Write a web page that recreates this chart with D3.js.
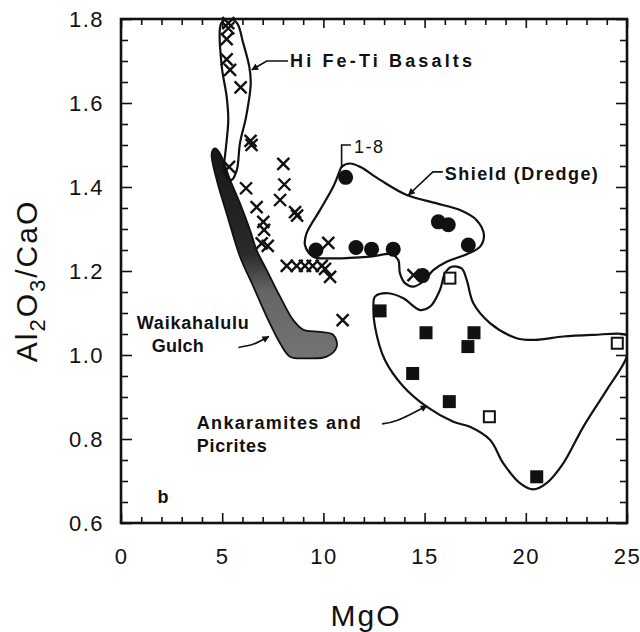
<!DOCTYPE html>
<html>
<head>
<meta charset="utf-8">
<script src="https://cdn.jsdelivr.net/npm/d3@7"></script>
<style>
  body { margin: 0; background: #fff; }
  svg { display: block; }
  .axis path.domain { display: none; }
  .axis line { stroke: #111; stroke-width: 1.6; }
  .axis text { font-family: "Liberation Sans", Arial, sans-serif; font-size: 22px; fill: #111; letter-spacing: 1.5px; }
  .title { font-family: "Liberation Sans", Arial, sans-serif; font-size: 30px; fill: #111; }
  .note { font-family: "Liberation Sans", Arial, sans-serif; font-size: 18px; font-weight: bold; fill: #111; }
  .leader { fill: none; stroke: #111; stroke-width: 1.6; }
  .outline { fill: none; stroke: #111; stroke-width: 2.2; }
</style>
</head>
<body>
<div id="chart"></div>
<script>
// ---- data (MgO wt%, Al2O3/CaO) ----
const mgoTicks = [0, 5, 10, 15, 20, 25];
const ratioTicks = [0.6, 0.8, 1.0, 1.2, 1.4, 1.6, 1.8];

// X symbols
const crosses = [
  [5.30, 1.790], [5.30, 1.778], [5.22, 1.752], [5.22, 1.704], [5.39, 1.679], [5.91, 1.637],
  [5.34, 1.448], [6.40, 1.510], [6.45, 1.500],
  [8.02, 1.455], [8.07, 1.406], [7.86, 1.369], [8.60, 1.340], [8.70, 1.332],
  [6.18, 1.397], [6.70, 1.352], [7.03, 1.317], [7.07, 1.298], [6.95, 1.266], [7.25, 1.260],
  [10.24, 1.267],
  [8.19, 1.212], [8.68, 1.212], [9.09, 1.212], [9.47, 1.212], [9.92, 1.212], [10.08, 1.205],
  [10.33, 1.186], [10.95, 1.083], [14.45, 1.190]
];

// filled circles (shield dredge)
const circles = [
  [11.10, 1.423], [9.63, 1.250], [11.61, 1.256], [12.38, 1.252], [13.45, 1.252],
  [15.68, 1.317], [16.17, 1.310], [17.16, 1.262], [14.90, 1.189]
];

// filled squares and open squares (ankaramites / picrites)
const filledSquares = [
  [12.80, 1.105], [15.07, 1.053], [17.44, 1.053], [17.14, 1.020],
  [14.41, 0.956], [16.22, 0.889], [20.54, 0.710]
];
const openSquares = [[16.25, 1.183], [18.20, 0.853], [24.52, 1.028]];

// field outlines
const hiFeTiOutline = [
  [4.89, 1.779], [4.98, 1.686], [5.22, 1.615], [5.30, 1.560], [5.19, 1.496], [5.09, 1.448],
  [5.14, 1.429], [5.47, 1.417], [5.72, 1.440], [5.88, 1.505], [6.18, 1.567], [6.41, 1.647],
  [6.34, 1.686], [6.04, 1.742], [5.72, 1.791], [5.30, 1.800], [4.99, 1.793]
];
const shieldOutline = [
  [10.90, 1.448], [11.31, 1.456], [11.81, 1.448], [12.80, 1.417], [14.12, 1.381], [15.60, 1.361],
  [16.75, 1.345], [17.57, 1.321], [17.93, 1.286], [17.74, 1.258], [17.08, 1.240], [16.09, 1.222],
  [15.43, 1.202], [14.94, 1.175], [14.44, 1.163], [14.03, 1.171], [13.78, 1.195], [13.70, 1.226],
  [13.37, 1.240], [12.30, 1.234], [10.33, 1.230], [9.50, 1.234], [9.09, 1.262], [9.17, 1.290],
  [9.83, 1.345], [10.49, 1.401], [10.82, 1.440]
];
const ankaramiteOutline = [
  [12.55, 1.139], [13.21, 1.147], [13.95, 1.135], [14.77, 1.107], [15.27, 1.115], [15.76, 1.155],
  [16.01, 1.195], [16.34, 1.210], [16.83, 1.206], [17.08, 1.179], [17.41, 1.123], [18.23, 1.076],
  [19.55, 1.040], [20.45, 1.036], [21.85, 1.044], [23.34, 1.048], [24.82, 1.050], [25.05, 1.044],
  [24.99, 0.996], [24.00, 0.917], [22.84, 0.829], [21.85, 0.742], [21.03, 0.695], [20.37, 0.680],
  [19.71, 0.695], [18.89, 0.742], [18.23, 0.798], [17.24, 0.829], [16.42, 0.841], [15.10, 0.877],
  [13.95, 0.925], [13.04, 0.988], [12.55, 1.067], [12.47, 1.115]
];
const waikahaluluOutline = [
  [4.64, 1.492], [4.48, 1.480], [4.73, 1.417], [5.22, 1.337], [5.88, 1.234], [6.54, 1.163],
  [7.20, 1.091], [7.86, 1.028], [8.35, 0.996], [9.17, 0.992], [10.16, 0.996], [10.66, 1.020],
  [10.49, 1.048], [9.83, 1.055], [9.01, 1.060], [8.51, 1.083], [7.86, 1.139], [7.20, 1.202],
  [6.70, 1.250], [6.37, 1.298], [5.88, 1.361], [5.39, 1.417], [4.89, 1.480]
];

// ---- layout ----
const containerWidth = 640, containerHeight = 632;
const margin = {top: 19, right: 13, bottom: 109, left: 121};
const width = containerWidth - margin.left - margin.right;
const height = containerHeight - margin.top - margin.bottom;

const svg = d3.select('#chart').append('svg')
    .attr('width', containerWidth)
    .attr('height', containerHeight);

const defs = svg.append('defs');
defs.append('clipPath').attr('id', 'plot-clip')
  .append('rect').attr('width', width).attr('height', height);

defs.append('marker')
    .attr('id', 'arrow')
    .attr('viewBox', '0 0 10 10')
    .attr('refX', 9).attr('refY', 5)
    .attr('markerWidth', 9).attr('markerHeight', 7)
    .attr('markerUnits', 'userSpaceOnUse')
    .attr('orient', 'auto')
  .append('path')
    .attr('d', 'M0,0L10,5L0,10Z')
    .attr('fill', '#111');

// gulch field: near-black upper part fading to a stippled mid grey
const shade = defs.append('linearGradient')
    .attr('id', 'gulch-shade')
    .attr('x1', 0).attr('y1', 0).attr('x2', 0).attr('y2', 1);
shade.append('stop').attr('offset', 0).attr('stop-color', '#161616');
shade.append('stop').attr('offset', 0.5).attr('stop-color', '#2a2a2a');
shade.append('stop').attr('offset', 0.68).attr('stop-color', '#656565');
shade.append('stop').attr('offset', 1).attr('stop-color', '#747474');

const chart = svg.append('g')
    .attr('transform', `translate(${margin.left},${margin.top})`);

// scales
const x = d3.scaleLinear().domain([0, 25]).range([0, width]);
const y = d3.scaleLinear().domain([0.6, 1.8]).range([height, 0]);

const minorX = d3.range(0, 26, 1).filter(d => d % 5 !== 0);
const minorY = d3.range(0.6, 1.801, 0.05).filter(d => Math.abs(d * 5 - Math.round(d * 5)) > 1e-6);

// axes (ticks point inward)
chart.append('g').attr('class', 'axis')
    .attr('transform', `translate(0,${height})`)
    .call(d3.axisBottom(x).tickValues(mgoTicks).tickSizeInner(-10).tickSizeOuter(0).tickPadding(25));
chart.append('g').attr('class', 'axis')
    .attr('transform', `translate(0,${height})`)
    .call(d3.axisBottom(x).tickValues(minorX).tickSizeInner(-6).tickSizeOuter(0).tickFormat(''));
chart.append('g').attr('class', 'axis')
    .call(d3.axisTop(x).tickValues(mgoTicks).tickSizeInner(-9).tickSizeOuter(0).tickFormat(''));
chart.append('g').attr('class', 'axis')
    .call(d3.axisTop(x).tickValues(minorX).tickSizeInner(-6).tickSizeOuter(0).tickFormat(''));

chart.append('g').attr('class', 'axis')
    .call(d3.axisLeft(y).tickValues(ratioTicks).tickSizeInner(-11).tickSizeOuter(0)
      .tickPadding(17).tickFormat(d3.format('.1f')));
chart.append('g').attr('class', 'axis')
    .call(d3.axisLeft(y).tickValues(minorY).tickSizeInner(-7).tickSizeOuter(0).tickFormat(''));
chart.append('g').attr('class', 'axis')
    .attr('transform', `translate(${width},0)`)
    .call(d3.axisRight(y).tickValues(ratioTicks).tickSizeInner(-11).tickSizeOuter(0).tickFormat(''));
chart.append('g').attr('class', 'axis')
    .attr('transform', `translate(${width},0)`)
    .call(d3.axisRight(y).tickValues(minorY).tickSizeInner(-7).tickSizeOuter(0).tickFormat(''));

// frame
chart.append('rect')
    .attr('width', width).attr('height', height)
    .attr('fill', 'none').attr('stroke', '#111').attr('stroke-width', 2.6);

// fields
const fields = chart.append('g').attr('clip-path', 'url(#plot-clip)');
const closedLine = d3.line()
    .x(d => x(d[0])).y(d => y(d[1]))
    .curve(d3.curveCatmullRomClosed.alpha(0.5));

fields.append('path')
    .attr('d', closedLine(waikahaluluOutline))
    .attr('fill', 'url(#gulch-shade)')
    .attr('stroke', '#111').attr('stroke-width', 1.8);

fields.append('path').attr('class', 'outline')
    .attr('d', closedLine(hiFeTiOutline))
    .attr('stroke-width', 2.8);
fields.append('path').attr('class', 'outline')
    .attr('d', closedLine(shieldOutline));
fields.append('path').attr('class', 'outline')
    .attr('d', closedLine(ankaramiteOutline));

// symbols
const marks = chart.append('g');
const xs = 6;
marks.selectAll('.cross')
    .data(crosses)
  .join('path')
    .attr('class', 'cross')
    .attr('d', d => {
      const cx = x(d[0]), cy = y(d[1]);
      return `M${cx - xs},${cy - xs}L${cx + xs},${cy + xs}M${cx + xs},${cy - xs}L${cx - xs},${cy + xs}`;
    })
    .attr('stroke', '#111').attr('stroke-width', 2.4).attr('fill', 'none');

marks.selectAll('.dot')
    .data(circles)
  .join('circle')
    .attr('class', 'dot')
    .attr('cx', d => x(d[0])).attr('cy', d => y(d[1]))
    .attr('r', 7.5)
    .attr('fill', '#111');

marks.selectAll('.sq')
    .data(filledSquares)
  .join('rect')
    .attr('class', 'sq')
    .attr('x', d => x(d[0]) - 6.5).attr('y', d => y(d[1]) - 6.5)
    .attr('width', 13).attr('height', 13)
    .attr('fill', '#111');

marks.selectAll('.osq')
    .data(openSquares)
  .join('rect')
    .attr('class', 'osq')
    .attr('x', d => x(d[0]) - 5.5).attr('y', d => y(d[1]) - 5.5)
    .attr('width', 11).attr('height', 11)
    .attr('fill', '#fff').attr('stroke', '#111').attr('stroke-width', 2);

// annotations
const leader = d3.line().x(d => x(d[0])).y(d => y(d[1]));
const curvedLeader = d3.line().x(d => x(d[0])).y(d => y(d[1])).curve(d3.curveNatural);

chart.append('text').attr('class', 'note')
    .attr('x', x(8.35)).attr('y', y(1.686))
    .attr('textLength', 182).attr('lengthAdjust', 'spacing')
    .text('Hi Fe-Ti Basalts');
chart.append('path').attr('class', 'leader')
    .attr('d', leader([[8.25, 1.700], [7.20, 1.700], [6.46, 1.679]]))
    .attr('marker-end', 'url(#arrow)');

chart.append('text').attr('class', 'note')
    .attr('x', x(11.51)).attr('y', y(1.481))
    .style('font-weight', 'normal')
    .attr('textLength', 29).attr('lengthAdjust', 'spacing')
    .text('1-8');
chart.append('path').attr('class', 'leader')
    .attr('d', leader([[10.90, 1.445], [10.90, 1.500], [11.36, 1.500]]));

chart.append('text').attr('class', 'note')
    .attr('x', x(16.0)).attr('y', y(1.417))
    .attr('textLength', 153).attr('lengthAdjust', 'spacing')
    .text('Shield (Dredge)');
chart.append('path').attr('class', 'leader')
    .attr('d', leader([[15.90, 1.436], [15.41, 1.436], [14.20, 1.381]]))
    .attr('marker-end', 'url(#arrow)');

chart.append('text').attr('class', 'note')
    .attr('x', x(0.78)).attr('y', y(1.062))
    .attr('textLength', 112).attr('lengthAdjust', 'spacing')
    .text('Waikahalulu');
chart.append('text').attr('class', 'note')
    .attr('x', x(1.52)).attr('y', y(1.006))
    .attr('textLength', 52).attr('lengthAdjust', 'spacing')
    .text('Gulch');
chart.append('path').attr('class', 'leader')
    .attr('d', curvedLeader([[5.80, 1.018], [6.55, 1.026], [7.30, 1.044]]))
    .attr('marker-end', 'url(#arrow)');

chart.append('text').attr('class', 'note')
    .attr('x', x(3.74)).attr('y', y(0.824))
    .attr('textLength', 164).attr('lengthAdjust', 'spacing')
    .text('Ankaramites and');
chart.append('text').attr('class', 'note')
    .attr('x', x(3.74)).attr('y', y(0.770))
    .attr('textLength', 70).attr('lengthAdjust', 'spacing')
    .text('Picrites');
chart.append('path').attr('class', 'leader')
    .attr('d', curvedLeader([[12.90, 0.836], [13.70, 0.845], [15.12, 0.879]]))
    .attr('marker-end', 'url(#arrow)');

chart.append('text').attr('class', 'note')
    .attr('x', x(1.80)).attr('y', y(0.648))
    .text('b');

// axis titles
svg.append('text').attr('class', 'title')
    .attr('x', 366).attr('y', 626)
    .attr('text-anchor', 'middle')
    .style('letter-spacing', '2px')
    .text('MgO');

const yTitle = svg.append('text').attr('class', 'title')
    .attr('transform', `translate(37,${margin.top + height / 2 + 10}) rotate(-90)`)
    .attr('text-anchor', 'middle')
    .style('letter-spacing', '2px');
yTitle.append('tspan').text('Al');
yTitle.append('tspan').attr('dy', 8).style('font-size', '22px').text('2');
yTitle.append('tspan').attr('dy', -8).text('O');
yTitle.append('tspan').attr('dy', 8).style('font-size', '22px').text('3');
yTitle.append('tspan').attr('dy', -8).text('/CaO');
</script>
</body>
</html>
